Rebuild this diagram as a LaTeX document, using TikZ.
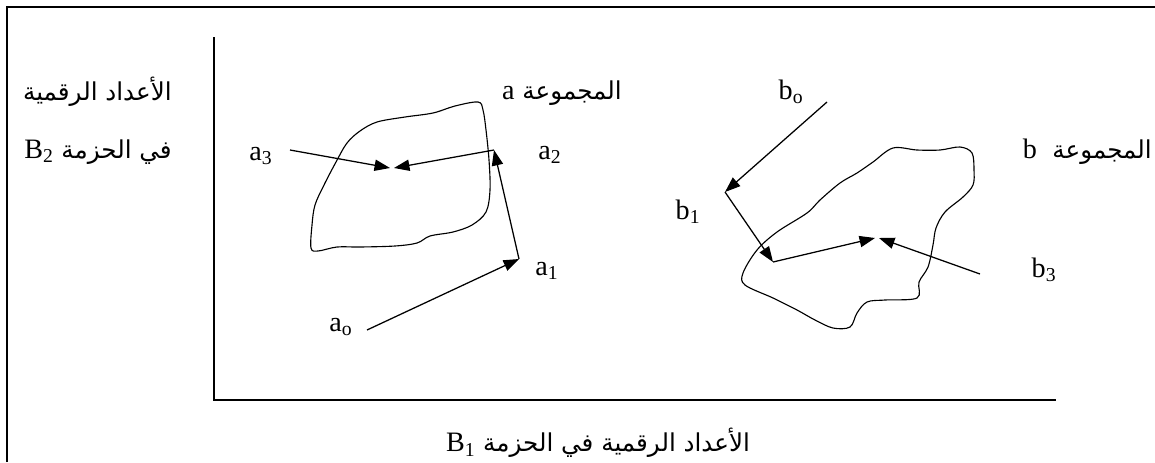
\documentclass[tikz,border=0pt]{standalone}
\usepackage{fontspec}
\setmainfont{Liberation Serif}
\newfontfamily\arabicfont[Script=Arabic]{DejaVu Sans}
\TeXXeTstate=1
\usetikzlibrary{arrows.meta,positioning}
\newcommand\bandname[1]{{\rmfamily\fontsize{20}{22}\selectfont B\textsubscript{#1}}}
\newcommand\setname[1]{{\rmfamily\fontsize{20}{22}\selectfont #1}}

\begin{document}
\begin{tikzpicture}[x=0.025cm, y=-0.025cm,
    lbl/.style={font=\fontsize{20}{22}\selectfont, inner sep=0pt},
    arlbl/.style={font=\fontsize{17.5}{20}\selectfont\arabicfont, inner sep=0pt},
    vec/.style={-{Triangle[length=11pt,width=8pt]}, line width=0.9pt},
    blob/.style={line width=0.8pt, smooth cycle, tension=0.55}]
  \useasboundingbox (0,0) rectangle (1155,462);
  \draw[line width=1pt] (7,462) -- (7,7) -- (1155,7);

  % axes
  \coordinate (ytop) at (214,37);
  \coordinate (origin) at (214,400);
  \coordinate (xend) at (1056,400);
  \draw[line width=1.1pt] (ytop) -- (origin) -- (xend);
  \node[arlbl, anchor=east] (ylab1) at (172,92) {\beginR الأعداد الرقمية\endR};
  \node[arlbl, anchor=east] (ylab2) at (172,152) {\beginR في الحزمة \beginL\bandname{2}\endL\endR};
  \node[arlbl] (xlab) at (598,443) {\beginR الأعداد الرقمية في الحزمة \beginL\bandname{1}\endL\endR};

  % set a
  \draw[blob] plot coordinates {(478,102) (455,106) (433,113) (405,117) (377,122)
    (360,131) (347,143) (336,162) (324,185) (315,205) (312,225) (311,248) (318,251)
    (337,247) (360,247) (395,246) (417,243) (430,236) (453,232) (472,225) (486,212)
    (490,190) (489,160) (486,130) (483,110)};
  \node[arlbl, anchor=east] (seta) at (622,93) {\beginR المجموعة \setname{a}\endR};
  \coordinate (pa0) at (367,330);
  \coordinate (pa1) at (519,259);
  \coordinate (pa2) at (494,150);
  \coordinate (pa3) at (290,150);
  \coordinate (ca2) at (394,168);
  \coordinate (ca3) at (390,168);
  \draw[vec] (pa0) -- (pa1);
  \draw[vec] (pa1) -- (pa2);
  \draw[vec] (pa2) -- (ca2);
  \draw[vec] (pa3) -- (ca3);
  \node[lbl] (a0) at (341,327) {a\textsubscript{o}};
  \node[lbl] (a1) at (547,271) {a\textsubscript{1}};
  \node[lbl] (a2) at (550,155) {a\textsubscript{2}};
  \node[lbl] (a3) at (261,156) {a\textsubscript{3}};

  % set b
  \draw[blob] plot coordinates {(893,148) (917,150) (940,150) (960,147) (972,153)
    (974,170) (973,185) (963,197) (945,212) (936,228) (933,245) (928,267) (919,282)
    (917,298) (885,300) (867,302) (857,313) (850,327) (833,328) (815,320) (797,310)
    (773,298) (745,285) (743,273) (757,250) (777,232) (807,213) (820,200) (840,183)
    (857,173) (873,162)};
  \node[arlbl, anchor=east] (setb) at (1152,152) {\beginR المجموعة \ \setname{b}\endR};
  \coordinate (pb0) at (827,102);
  \coordinate (pb1) at (725,192);
  \coordinate (pb2) at (773,262);
  \coordinate (pb3) at (980,274);
  \coordinate (cb2) at (875,238);
  \coordinate (cb3) at (879,238);
  \draw[vec] (pb0) -- (pb1);
  \draw[vec] (pb1) -- (pb2);
  \draw[vec] (pb2) -- (cb2);
  \draw[vec] (pb3) -- (cb3);
  \node[lbl] (b0) at (791,92) {b\textsubscript{o}};
  \node[lbl] (b1) at (688,212) {b\textsubscript{1}};
  \node[lbl] (b3) at (1044,270) {b\textsubscript{3}};
\end{tikzpicture}
\end{document}
